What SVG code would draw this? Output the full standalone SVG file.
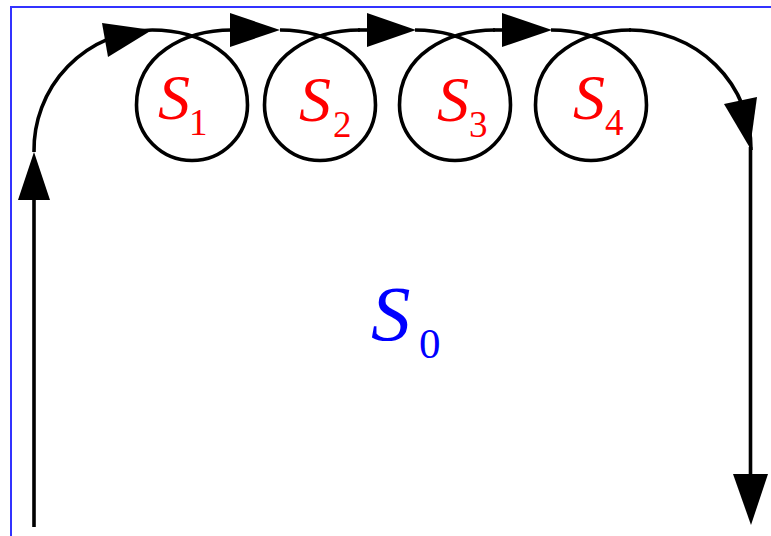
<svg xmlns="http://www.w3.org/2000/svg" width="771" height="536" viewBox="0 0 771 536">
<style>
.ln{fill:none;stroke:#000;stroke-width:3.6;stroke-linecap:butt}
.ah{fill:#000;stroke:none}
.s{font-family:"Liberation Serif","Times New Roman",serif;font-style:italic}
.sub{font-family:"Liberation Serif","Times New Roman",serif}
.red{fill:#ff0000}
.blue{fill:#0000ff}
</style>
<rect x="0" y="0" width="771" height="536" fill="#fff"/>
<rect x="11" y="7" width="800" height="560" fill="none" stroke="#3333ff" stroke-width="2"/>
<g id="connectors">
<path class="ln" d="M34,527 L34,198"/>
<polygon class="ah" points="18,200 50,200 34,152"/>
<path class="ln" d="M34,152 A120,120 0 0 1 152,30"/>
<polygon class="ah" points="102,23 108,57 152,30"/>
<polygon class="ah" points="230,13 230,47 280,30"/>
<path class="ln" d="M358,30 L369,30"/>
<polygon class="ah" points="367,13 367,47 416,30"/>
<path class="ln" d="M493,30 L504,30"/>
<polygon class="ah" points="502,13 502,47 552,30"/>
<path class="ln" d="M629,30 A121,119 0 0 1 751,150"/>
<polygon class="ah" points="724,104 757,97 750,148"/>
<path class="ln" d="M750.5,147 L750.5,476"/>
<polygon class="ah" points="733,474 768,474 751,525"/>
</g>
<g id="S1">
<path class="ln" d="M152,30 C200,30 247.5,55 247.5,105 A55.5,55.5 0 0 1 136.5,105 C136.5,55 184,30 232,30"/>
<text class="s red" x="158" y="119" font-size="64">S</text>
<text class="sub red" x="189" y="135" font-size="37">1</text>
</g>
<g id="S2">
<path class="ln" d="M280,30 C328,30 375.5,55 375.5,105 A55.5,55.5 0 0 1 264.5,105 C264.5,55 312,30 360,30"/>
<text class="s red" x="299" y="121" font-size="64">S</text>
<text class="sub red" x="333" y="137" font-size="37">2</text>
</g>
<g id="S3">
<path class="ln" d="M415,30 C463,30 510.5,55 510.5,105 A55.5,55.5 0 0 1 399.5,105 C399.5,55 447,30 495,30"/>
<text class="s red" x="437" y="121" font-size="64">S</text>
<text class="sub red" x="469" y="137" font-size="37">3</text>
</g>
<g id="S4">
<path class="ln" d="M551,30 C599,30 646.5,55 646.5,105 A55.5,55.5 0 0 1 535.5,105 C535.5,55 583,30 631,30"/>
<text class="s red" x="573" y="119" font-size="64">S</text>
<text class="sub red" x="605" y="135" font-size="37">4</text>
</g>
<g id="S0">
<text class="s blue" x="371" y="340" font-size="79">S</text>
<text class="sub blue" x="419" y="358" font-size="43">0</text>
</g>
</svg>
